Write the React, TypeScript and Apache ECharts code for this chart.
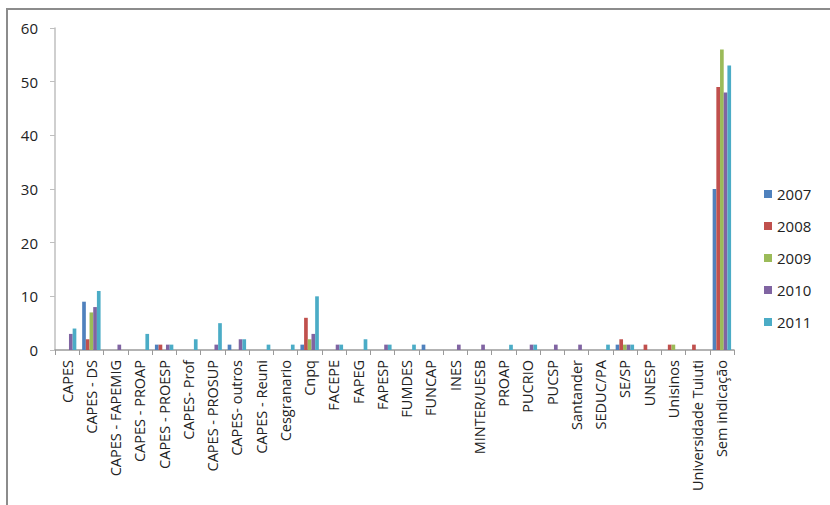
import React, { useEffect, useRef } from "react";
import * as echarts from "echarts";

const categories = [
  "CAPES", "CAPES - DS", "CAPES - FAPEMIG", "CAPES - PROAP", "CAPES - PROESP",
  "CAPES- Prof", "CAPES - PROSUP", "CAPES- outros", "CAPES - Reuni", "Cesgranario",
  "Cnpq", "FACEPE", "FAPEG", "FAPESP", "FUMDES", "FUNCAP", "INES", "MINTER/UESB",
  "PROAP", "PUCRIO", "PUCSP", "Santander", "SEDUC/PA", "SE/SP", "UNESP", "Unisinos",
  "Universidade Tuiuti", "Sem indicação",
];

const y2007 = [0, 9, 0, 0, 1, 0, 0, 1, 0, 0, 1, 0, 0, 0, 0, 1, 0, 0, 0, 0, 0, 0, 0, 1, 0, 0, 0, 30];
const y2008 = [0, 2, 0, 0, 1, 0, 0, 0, 0, 0, 6, 0, 0, 0, 0, 0, 0, 0, 0, 0, 0, 0, 0, 2, 1, 1, 1, 49];
const y2009 = [0, 7, 0, 0, 0, 0, 0, 0, 0, 0, 2, 0, 0, 0, 0, 0, 0, 0, 0, 0, 0, 0, 0, 1, 0, 1, 0, 56];
const y2010 = [3, 8, 1, 0, 1, 0, 1, 2, 0, 0, 3, 1, 0, 1, 0, 0, 1, 1, 0, 1, 1, 1, 0, 1, 0, 0, 0, 48];
const y2011 = [4, 11, 0, 3, 1, 2, 5, 2, 1, 1, 10, 1, 2, 1, 1, 0, 0, 0, 1, 1, 0, 0, 1, 1, 0, 0, 0, 53];

const seriesNames = ["2007", "2008", "2009", "2010", "2011"];
const seriesData = [y2007, y2008, y2009, y2010, y2011];
const colors = ["#4F81BD", "#C0504D", "#9BBB59", "#8064A2", "#4BACC6"];

const FONT = "'Open Sans', sans-serif";

export default function App() {
  const ref = useRef<HTMLDivElement>(null);
  useEffect(() => {
    if (!ref.current) return;
    const chart = echarts.init(ref.current, null, { renderer: "svg" });
    chart.setOption({
      animation: false,
      backgroundColor: "#ffffff",
      color: colors,
      graphic: [
        {
          type: "rect",
          shape: { x: 7, y: 9, width: 840, height: 520 },
          style: { fill: "none", stroke: "#8c8c8c", lineWidth: 2 },
          silent: true,
        },
      ],
      legend: {
        orient: "vertical",
        left: 759,
        top: 180,
        icon: "rect",
        itemWidth: 8,
        itemHeight: 8,
        itemGap: 14,
        textStyle: { fontFamily: FONT, fontSize: 15, color: "#222", lineHeight: 18 },
        data: seriesNames,
      },
      grid: { left: 55, top: 28, width: 679, height: 322, containLabel: false },
      xAxis: {
        type: "category",
        data: categories,
        boundaryGap: true,
        axisLine: { lineStyle: { color: "#9a9a9a", width: 1.5 } },
        axisTick: { show: true, length: 5, lineStyle: { color: "#9a9a9a" } },
        axisLabel: {
          interval: 0,
          rotate: 90,
          margin: 10,
          fontFamily: FONT,
          fontSize: 14.5,
          color: "#222",
        },
      },
      yAxis: {
        type: "value",
        min: 0,
        max: 60,
        interval: 10,
        splitLine: { show: false },
        axisLine: { show: true, lineStyle: { color: "#bfbfbf", width: 1.5 } },
        axisTick: { show: true, length: 5, lineStyle: { color: "#bfbfbf" } },
        axisLabel: { margin: 17, fontFamily: FONT, fontSize: 15, color: "#222" },
      },
      series: seriesNames.map((name, i) => ({
        name,
        type: "bar",
        data: seriesData[i],
        barGap: "0%",
        barCategoryGap: "24%",
      })),
    });
    return () => chart.dispose();
  }, []);
  return (
    <div
      ref={ref}
      style={{ position: "fixed", left: 0, top: 0, width: 830, height: 505 }}
    />
  );
}
